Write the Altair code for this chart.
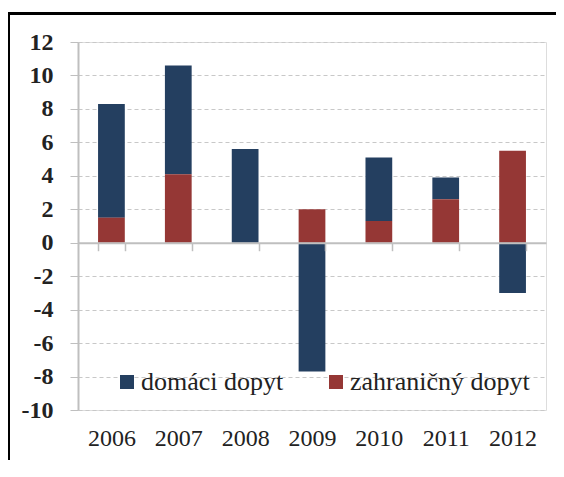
import altair as alt
import pandas as pd

years = ["2006", "2007", "2008", "2009", "2010", "2011", "2012"]
domestic = [6.8, 6.5, 5.6, -7.7, 3.8, 1.3, -3.0]
foreign = [1.5, 4.1, 0.0, 2.0, 1.3, 2.6, 5.5]
series = ["domáci dopyt", "zahraničný dopyt"]
colors = ["#243F60", "#953735"]
y_ticks = [-10, -8, -6, -4, -2, 0, 2, 4, 6, 8, 10, 12]

rows = []
for i, y in enumerate(years):
    rows.append({"year": y, "series": series[0], "value": domestic[i], "ord": 1})
    rows.append({"year": y, "series": series[1], "value": foreign[i], "ord": 0})
df = pd.DataFrame(rows)

W, H = 468, 368
zero_offset = -H * 10 / 22

font = "Liberation Serif, Times New Roman, serif"

bars = alt.Chart(df).mark_bar().encode(
    x=alt.X("year:N", sort=years, title=None,
            scale=alt.Scale(paddingInner=0.6, paddingOuter=0.3),
            axis=alt.Axis(orient="bottom", offset=zero_offset, labelAngle=0,
                          tickBand="extent", tickSize=8, tickColor="#bfbfbf",
                          tickWidth=1.5, domainColor="#bfbfbf", domainWidth=2,
                          labelPadding=176, labelFont=font, labelFontSize=24,
                          labelColor="#222222", zindex=1, grid=False)),
    y=alt.Y("value:Q", title=None, stack="zero",
            scale=alt.Scale(domain=[-10, 12], nice=False, zero=False),
            axis=alt.Axis(values=y_ticks, tickSize=8, tickColor="#bfbfbf",
                          domainColor="#bfbfbf", domainWidth=2,
                          grid=True, gridColor="#c8c8c8", gridDash=[4, 3],
                          gridWidth=1.2, labelFont=font, labelFontSize=24,
                          labelFontWeight="bold", labelColor="#222222",
                          labelPadding=17, labelExpr="datum.value + ''")),
    color=alt.Color("series:N", sort=series,
                    scale=alt.Scale(domain=series, range=colors),
                    legend=alt.Legend(title=None, orient="none", direction="horizontal",
                                      legendX=36, legendY=327, symbolType="square",
                                      symbolSize=196, symbolStrokeWidth=0,
                                      labelFont=font, labelFontSize=26,
                                      labelColor="#222222", labelOffset=1,
                                      labelLimit=400, columnPadding=39)),
    order=alt.Order("ord:Q"),
)

frame_df = pd.DataFrame({"k": [0]})
top_line = alt.Chart(frame_df).mark_rule(color="black", strokeWidth=3).encode(
    x=alt.value(-71), x2=alt.value(700), y=alt.value(-28.5))
left_line = alt.Chart(frame_df).mark_rule(color="black", strokeWidth=3).encode(
    x=alt.value(-69.5), y=alt.value(-30), y2=alt.value(600))

chart = alt.layer(bars, top_line, left_line).properties(
    width=W, height=H,
    autosize=alt.AutoSizeParams(type="none"),
    padding={"left": 70, "top": 34, "right": 10, "bottom": 50},
).configure_view(stroke=None).configure(background="white")

chart.save("out.html", embed_options={"renderer": "svg", "actions": False})
